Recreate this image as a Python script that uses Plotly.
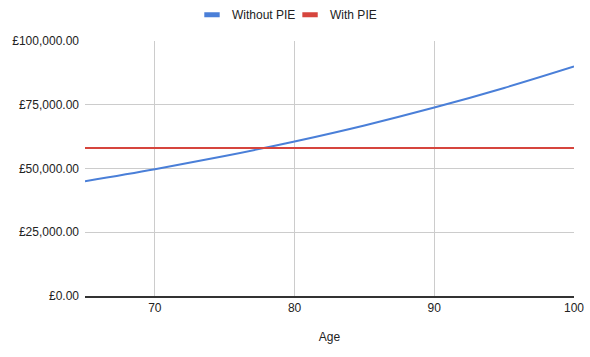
import plotly.graph_objects as go

ages = [65, 70, 75, 80, 85, 90, 95, 100]
without_pie = [45000, 49700, 54900, 60600, 66900, 73900, 81600, 90000]
with_pie = [58000, 58000, 58000, 58000, 58000, 58000, 58000, 58000]
y_ticks = [0, 25000, 50000, 75000, 100000]
y_tick_labels = ["\u00a3" + f"{v:,.2f}" for v in y_ticks]
x_ticks = [70, 80, 90, 100]

BLUE = "#4a7fd8"
RED = "#d6453d"

fig = go.Figure()
fig.add_trace(go.Scatter(x=ages, y=without_pie, mode="lines", line=dict(color=BLUE, width=2, shape="spline"),
                         name="Without PIE", showlegend=False))
fig.add_trace(go.Scatter(x=ages, y=with_pie, mode="lines", line=dict(color=RED, width=2),
                         name="With PIE", showlegend=False))
for name, col, lg in [("Without PIE", BLUE, "legend"), ("With PIE", RED, "legend2")]:
    fig.add_trace(go.Scatter(x=[None], y=[None], mode="markers", name=name, legend=lg,
                             marker=dict(symbol="line-ew", size=11, line=dict(color=col, width=5))))

leg_common = dict(orientation="h", xanchor="left", y=1.16, yanchor="top",
                  font=dict(size=12, color="#222"), itemwidth=30, bgcolor="rgba(0,0,0,0)")
fig.update_layout(
    width=590, height=357,
    margin=dict(l=85, r=16, t=41, b=61, autoexpand=False),
    paper_bgcolor="white", plot_bgcolor="white",
    font=dict(family="Liberation Sans, Arial, sans-serif", size=12, color="#222"),
    legend=dict(x=0.2188, **leg_common),
    legend2=dict(x=0.4193, **leg_common),
    xaxis=dict(range=[65, 100.0001], tickvals=x_ticks, showgrid=True, gridcolor="#cccccc", gridwidth=1,
               showline=True, linecolor="#333", linewidth=1.5, zeroline=False, ticks="", automargin=False,
               title=dict(text="Age", font=dict(size=12, color="#222"), standoff=18)),
    yaxis=dict(range=[0, 100000], tickvals=y_ticks, ticktext=y_tick_labels, ticklabelstandoff=5,
               showgrid=True, gridcolor="#cccccc", gridwidth=1, zeroline=False, ticks="",
               showline=False, automargin=False),
)
fig.write_html("out.html", config={"responsive": False, "displayModeBar": False},
               post_script="document.body.style.margin='0';document.body.style.overflow='hidden';")
